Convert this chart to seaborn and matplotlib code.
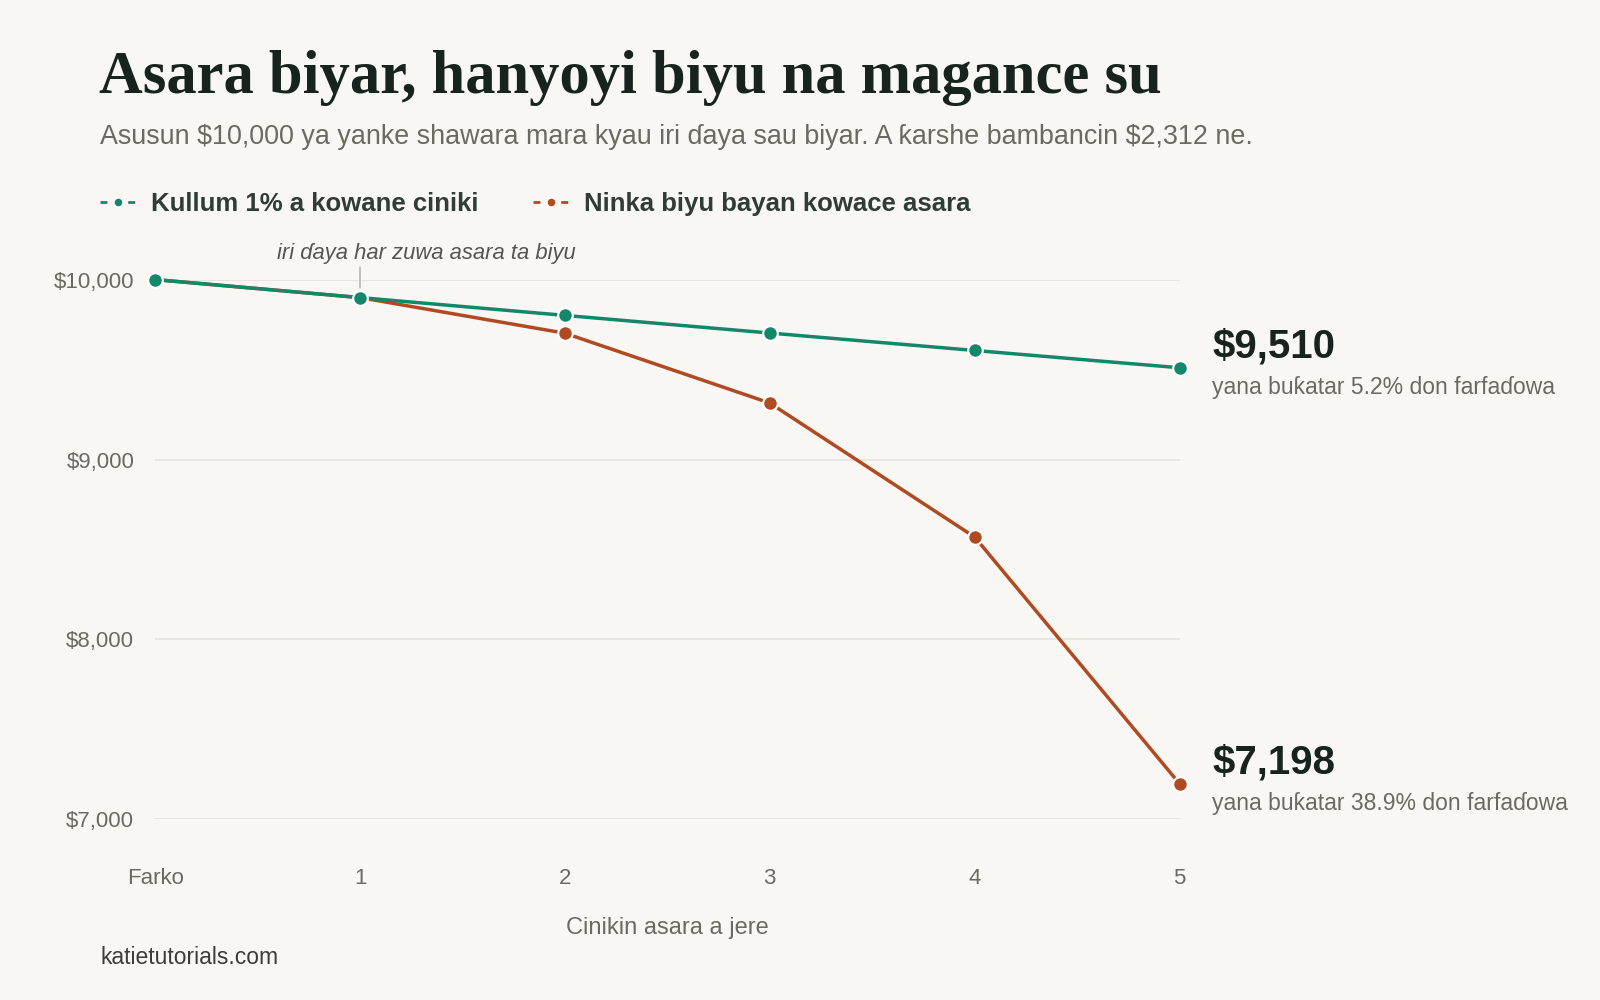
import numpy as np
import pandas as pd
import seaborn as sns
import matplotlib.pyplot as plt
from matplotlib.lines import Line2D

# data
trades = [0, 1, 2, 3, 4, 5]
trade_labels = ['Farko', '1', '2', '3', '4', '5']
steady_values = [10000, 9900, 9801, 9703, 9606, 9510]
doubling_values = [10000, 9900, 9702, 9314, 8569, 7198]
steady_name = 'Kullum 1% a kowane ciniki'
doubling_name = 'Ninka biyu bayan kowace asara'
y_ticks = [7000, 8000, 9000, 10000]
y_tick_labels = ['$7,000', '$8,000', '$9,000', '$10,000']

GREEN = '#13876a'
ORANGE = '#b04a22'
BG = '#f8f7f3'
DARK = '#17241e'
GREY = '#6b6a62'

# layout measured on a 1568x980 view of the reference
S = 1600 / 1568
W, H = 1600, 1000


def fx(x):
    return x * S / W


def fy(y):
    return 1 - y * S / H


df = pd.DataFrame({
    'trade': trades * 2,
    'value': doubling_values + steady_values,
    'series': [doubling_name] * len(trades) + [steady_name] * len(trades),
})

sns.set_theme(style='white')
sans = ['Liberation Sans', 'DejaVu Sans']
serif = ['Liberation Serif', 'DejaVu Serif']
plt.rcParams['font.family'] = sans

fig = plt.figure(figsize=(16, 10), dpi=100, facecolor=BG)
ax = fig.add_axes([fx(152), fy(803), fx(1156) - fx(152), fy(274) - fy(803)])
ax.set_facecolor(BG)

for yt in y_ticks:
    ax.axhline(yt, color='#e4e2dc', lw=1.2, zorder=0)

sns.lineplot(data=df, x='trade', y='value', hue='series',
             hue_order=[doubling_name, steady_name],
             palette={steady_name: GREEN, doubling_name: ORANGE},
             marker='o', markersize=10.5, markeredgecolor='white', markeredgewidth=1.5,
             linewidth=2.5, legend=False, clip_on=False, ax=ax, zorder=3)

ax.set_xlim(0, 5)
ax.set_ylim(7000, 10000)
ax.set_xticks(trades)
ax.set_xticklabels(trade_labels)
ax.set_yticks(y_ticks)
ax.set_yticklabels(y_tick_labels)
ax.tick_params(axis='x', length=0, pad=35, labelsize=16, labelcolor=GREY)
ax.tick_params(axis='y', length=0, pad=15, labelsize=16, labelcolor=GREY)
for s in ax.spines.values():
    s.set_visible(False)
ax.set_xlabel('Cinikin asara a jere', fontsize=17, color=GREY, labelpad=20)
ax.set_ylabel('')

# annotation near trade 1
ax.annotate('', xy=(1, steady_values[1]), xytext=(0, 22), textcoords='offset points',
            arrowprops=dict(arrowstyle='-', color='#b8b6ae', lw=1.2, shrinkA=0, shrinkB=7))
ax.annotate('iri ɗaya har zuwa asara ta biyu', xy=(1, steady_values[1]), xytext=(-60, 32),
            textcoords='offset points', ha='left', va='center', fontsize=15.8,
            style='italic', color='#55544e')

# end labels
for val, sub in [(steady_values[-1], 'yana buƙatar 5.2% don farfaɗowa'),
                 (doubling_values[-1], 'yana buƙatar 38.9% don farfaɗowa')]:
    ax.annotate(f'${val:,}', xy=(5, val), xytext=(23.5, 15), textcoords='offset points',
                ha='left', va='center', fontsize=29, fontweight='bold', color=DARK)
    ax.annotate(sub, xy=(5, val), xytext=(23.5, -14.5), textcoords='offset points',
                ha='left', va='center', fontsize=16.5, color=GREY)

# title block
fig.text(fx(97), fy(76), 'Asara biyar, hanyoyi biyu na magance su',
         family=serif, fontsize=43.6, fontweight='bold', color=DARK, va='center')
fig.text(fx(98), fy(134),
         r'Asusun \$10,000 ya yanke shawara mara kyau iri ɗaya sau biyar. A ƙarshe bambancin \$2,312 ne.',
         fontsize=19.4, color=GREY, va='center')

handles = [Line2D([], [], color=c, ls=(0, (2.5, 2.5)), lw=2, marker='o', markersize=6.5,
                  markeredgecolor='white', markeredgewidth=1)
           for c in (GREEN, ORANGE)]
leg = fig.legend(handles, [steady_name, doubling_name], loc='center left',
                 bbox_to_anchor=(fx(98), fy(200)), ncol=2, frameon=False,
                 borderpad=0, borderaxespad=0,
                 handlelength=1.4, handletextpad=0.6, columnspacing=2.1,
                 prop={'weight': 'bold', 'size': 18.5, 'family': sans})
for t in leg.get_texts():
    t.set_color('#2f3d36')

fig.text(fx(98), fy(938), 'katietutorials.com', fontsize=16.5, color='#3c3c38', va='center')

fig.savefig('out.png', dpi=100, facecolor=BG)
